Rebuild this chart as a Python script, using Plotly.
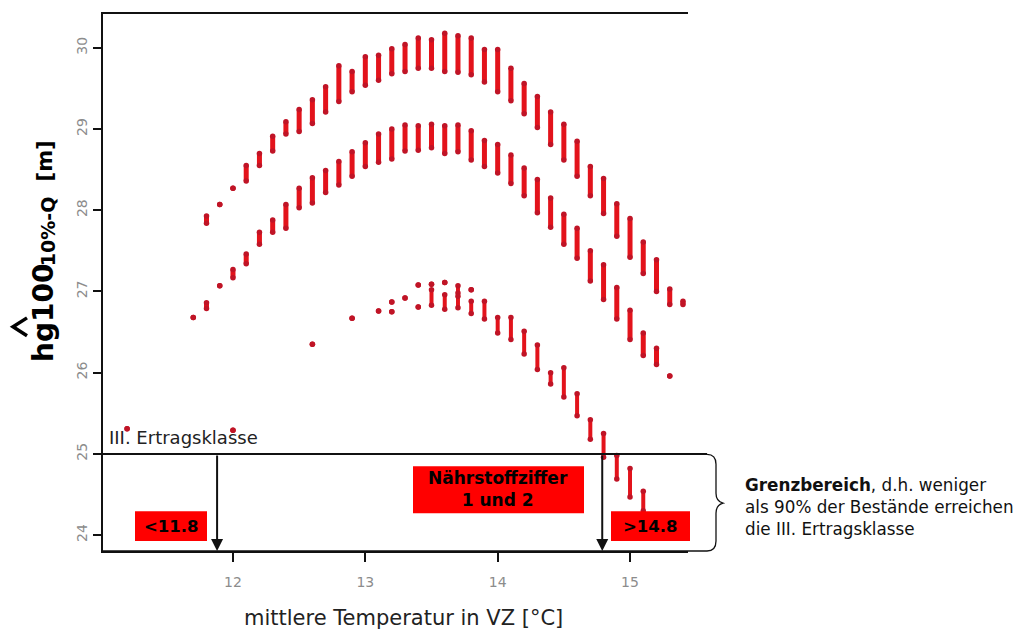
import plotly.graph_objects as go

# ---------------- data ----------------
top_x = [11.8, 11.9, 12.0, 12.1, 12.2, 12.3, 12.4, 12.5, 12.6, 12.7, 12.8, 12.9, 13.0,
         13.1, 13.2, 13.3, 13.4, 13.5, 13.6, 13.7, 13.8, 13.9, 14.0, 14.1, 14.2, 14.3,
         14.4, 14.5, 14.6, 14.7, 14.8, 14.9, 15.0, 15.1, 15.2, 15.3, 15.4]
top_lo = [27.84, 28.07, 28.27, 28.36, 28.55, 28.73, 28.94, 28.97, 29.07, 29.21, 29.34, 29.46, 29.54,
          29.60, 29.68, 29.71, 29.75, 29.75, 29.71, 29.70, 29.67, 29.58, 29.46, 29.35, 29.19, 29.02,
          28.81, 28.62, 28.42, 28.18, 27.96, 27.68, 27.42, 27.22, 27.00, 26.84, 26.84]
top_hi = [27.93, 28.07, 28.27, 28.55, 28.70, 28.91, 29.09, 29.24, 29.36, 29.52, 29.78, 29.71, 29.89,
          29.91, 29.99, 30.04, 30.12, 30.10, 30.18, 30.15, 30.12, 29.98, 29.98, 29.75, 29.56, 29.40,
          29.21, 29.06, 28.85, 28.54, 28.39, 28.08, 27.90, 27.61, 27.39, 27.03, 26.88]

mid_x = [11.7, 11.8, 11.9, 12.0, 12.1, 12.2, 12.3, 12.4, 12.5, 12.6, 12.7, 12.8, 12.9,
         13.0, 13.1, 13.2, 13.3, 13.4, 13.5, 13.6, 13.7, 13.8, 13.9, 14.0, 14.1, 14.2,
         14.3, 14.4, 14.5, 14.6, 14.7, 14.8, 14.9, 15.0, 15.1, 15.2, 15.3]
mid_lo = [26.68, 26.79, 27.07, 27.17, 27.34, 27.58, 27.73, 27.78, 28.03, 28.09, 28.22, 28.31, 28.42,
          28.54, 28.59, 28.63, 28.73, 28.74, 28.77, 28.70, 28.72, 28.62, 28.54, 28.46, 28.33, 28.18,
          27.97, 27.79, 27.58, 27.41, 27.13, 26.90, 26.66, 26.41, 26.21, 26.10, 25.96]
mid_hi = [26.68, 26.86, 27.07, 27.27, 27.46, 27.73, 27.88, 28.07, 28.27, 28.40, 28.49, 28.60, 28.72,
          28.83, 28.94, 29.00, 29.05, 29.04, 29.06, 29.04, 29.05, 28.98, 28.86, 28.81, 28.68, 28.52,
          28.38, 28.15, 27.95, 27.78, 27.50, 27.33, 27.05, 26.77, 26.49, 26.30, 25.96]

low_x = [11.2, 12.0, 12.6, 12.9, 13.1, 13.2, 13.2, 13.3, 13.4, 13.4, 13.5, 13.5, 13.6, 13.6,
         13.7, 13.7, 13.8, 13.8, 13.9, 14.0, 14.1, 14.2, 14.3, 14.4, 14.5, 14.6, 14.7, 14.8,
         14.9, 15.0, 15.1]
low_lo = [25.31, 25.29, 26.35, 26.67, 26.76, 26.87, 26.75, 26.92, 27.08, 26.81, 27.09, 26.83, 27.11, 26.78,
          26.98, 26.80, 27.02, 26.73, 26.66, 26.49, 26.41, 26.23, 26.04, 25.86, 25.70, 25.47, 25.18, 24.96,
          24.69, 24.47, 24.30]
low_hi = [25.31, 25.29, 26.35, 26.67, 26.76, 26.87, 26.75, 26.92, 27.08, 26.81, 27.09, 27.02, 27.11, 26.96,
          27.07, 26.94, 27.02, 26.88, 26.88, 26.68, 26.68, 26.51, 26.34, 26.00, 26.06, 25.74, 25.42, 25.25,
          24.98, 24.82, 24.54]

x_ticks = [12, 13, 14, 15]
y_ticks = [24, 25, 26, 27, 28, 29, 30]
class_line = 25          # III. Ertragsklasse
limit_low = 11.88        # arrow "<11.8"
limit_high = 14.79       # arrow ">14.8"

# ---------------- layout helpers ----------------
OFF = 8                  # default page margin around the plot div
W, H = 1026 - OFF, 632 - OFF
L, R, T, B = 103, 688, 12, 551     # plot area in window pixels
x_range = [11.018, 15.438]
y_range = [23.804, 30.417]


def px(x):
    return (x - L) / (R - L)


def py(y):
    return (B - y) / (B - T)


def segs(xs, lo, hi):
    X, Y = [], []
    for x, a, b in zip(xs, lo, hi):
        X += [x, x, None]
        Y += [a, b, None]
    return X, Y


RED = "#e3131b"
DARK = "#c01426"
FONT = "DejaVu Sans"

fig = go.Figure()
for xs, lo, hi, w in [(top_x, top_lo, top_hi, 5), (mid_x, mid_lo, mid_hi, 5), (low_x, low_lo, low_hi, 4)]:
    X, Y = segs(xs, lo, hi)
    fig.add_trace(go.Scatter(x=X, y=Y, mode="lines+markers",
                             line=dict(color=RED, width=w),
                             marker=dict(color=DARK, size=5.5),
                             hoverinfo="skip", showlegend=False))

shapes = []
shapes.append(dict(type="line", xref="paper", yref="y", x0=0, x1=px(707), y0=class_line, y1=class_line,
                   line=dict(color="#111", width=2)))
shapes.append(dict(type="line", xref="paper", yref="paper", x0=0, x1=px(707), y0=0, y1=0,
                   line=dict(color="#111", width=1.5)))
# bracket
pts = [("M", 707, 454), ("Q", 716, 454, 716, 464), ("L", 716, 493), ("Q", 716, 501, 723, 503),
       ("Q", 716, 505, 716, 513), ("L", 716, 541), ("Q", 716, 551, 707, 551)]
path = ""
for p in pts:
    coords = p[1:]
    parts = [f"{px(coords[i]):.5f},{py(coords[i+1]):.5f}" for i in range(0, len(coords), 2)]
    path += p[0] + " " + " ".join(parts) + " "
shapes.append(dict(type="path", xref="paper", yref="paper", path=path.strip(),
                   line=dict(color="#111", width=1.3)))
# caret of the y title
caret = [(27, 317), (13, 326), (27, 335)]
shapes.append(dict(type="path", xref="paper", yref="paper",
                   path="M " + " L ".join(f"{px(a):.5f},{py(b):.5f}" for a, b in caret),
                   line=dict(color="black", width=3.5)))
# red boxes
for (x0, y0, x1, y1) in [(135, 511, 207, 541), (413, 466, 584, 513), (611, 511, 690, 541)]:
    shapes.append(dict(type="rect", xref="paper", yref="paper", x0=px(x0), x1=px(x1), y0=py(y1), y1=py(y0),
                       fillcolor="#ff0000", line=dict(width=0), layer="above"))

ann = []


def text(xp, yp, s, size, color="black", xanchor="center", angle=0, align="center"):
    ann.append(dict(x=px(xp), y=py(yp), xref="paper", yref="paper", text=s, showarrow=False,
                    xanchor=xanchor, yanchor="middle", textangle=angle, align=align,
                    font=dict(family=FONT, size=size, color=color)))


for xv in [limit_low, limit_high]:
    ann.append(dict(x=xv, y=y_range[0], ax=xv, ay=class_line, xref="x", yref="y", axref="x", ayref="y",
                    text="", showarrow=True, arrowhead=2, arrowsize=1.2, arrowwidth=2, arrowcolor="#111"))

text(171, 526, "<b>&lt;11.8</b>", 16.5)
text(650, 526, "<b>&gt;14.8</b>", 16.5)
text(498, 489, "<b>Nährstoffziffer<br>1 und 2</b>", 17)
text(107, 437, "III. Ertragsklasse", 18, "#222", xanchor="left")
text(743, 507, "<b>Grenzbereich</b>, d.h. weniger<br>als 90% der Bestände erreichen<br>die III. Ertragsklasse",
     16.8, "#111", xanchor="left", align="left")
text(403, 618, "mittlere Temperatur in VZ [°C]", 21, "#222")
text(44, 312, "<b>hg100</b>", 28, angle=-90)
text(48, 230, "<b>10%-Q</b>", 19, angle=-90)
text(45, 160, "<b>[m]</b>", 21, angle=-90)

tickfont = dict(family=FONT, size=14, color="#8c8c8c")
fig.update_layout(
    width=W, height=H,
    margin=dict(l=L - OFF, r=W - (R - OFF), t=T - OFF, b=H - (B - OFF), pad=0),
    plot_bgcolor="white", paper_bgcolor="white", showlegend=False,
    xaxis=dict(range=x_range, tickvals=x_ticks, ticktext=[str(v) for v in x_ticks], ticks="outside",
               ticklen=9, tickwidth=1.5, tickcolor="#111", showgrid=False, zeroline=False,
               showline=True, mirror=True, linecolor="#111", linewidth=1.5,
               tickfont=tickfont, ticklabelstandoff=8, fixedrange=True),
    yaxis=dict(range=y_range, tickvals=y_ticks, ticktext=[str(v) for v in y_ticks], ticks="outside",
               ticklen=8, tickwidth=1.5, tickcolor="#111", tickangle=-90, showgrid=False, zeroline=False,
               showline=True, mirror=False, linecolor="#111", linewidth=1.5,
               tickfont=tickfont, ticklabelstandoff=1, fixedrange=True),
    shapes=shapes, annotations=ann,
)

fig.write_html("out.html")
